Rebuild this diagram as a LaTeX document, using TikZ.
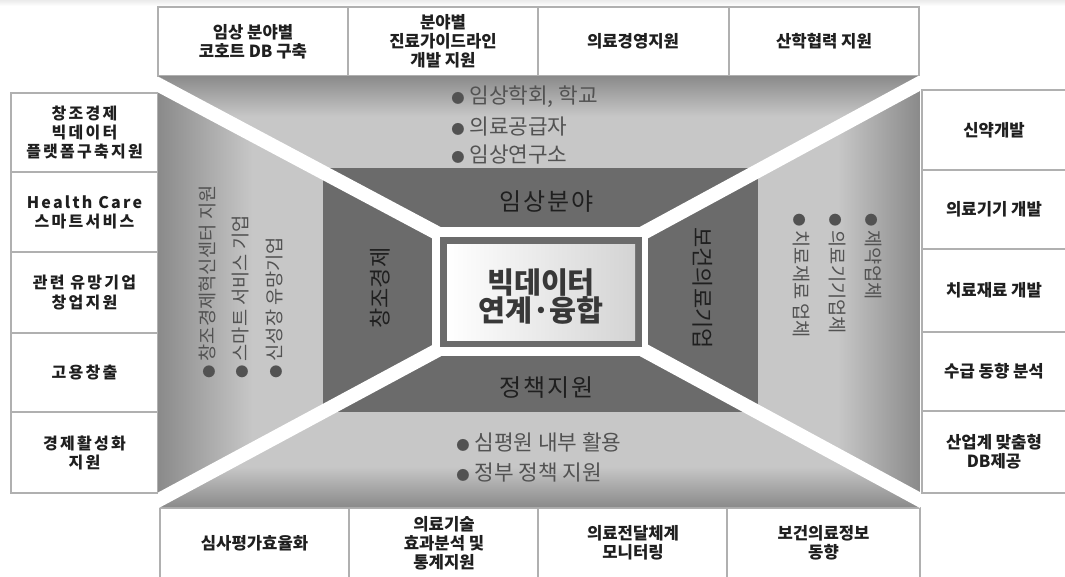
\documentclass[tikz,border=0pt]{standalone}
\usepackage{fontspec}
\setmainfont{Noto Sans CJK KR}
\definecolor{panellight}{HTML}{C7C7C7}
\definecolor{paneldark}{HTML}{8A8A8A}
\definecolor{ringgray}{HTML}{6B6B6B}
\definecolor{bullettext}{HTML}{525252}
\definecolor{boxline}{HTML}{B0B0B0}
\pgfdeclareverticalshading{fadetop}{100bp}{color(0bp)=(panellight); color(62bp)=(panellight); color(75bp)=(paneldark); color(100bp)=(paneldark)}
\pgfdeclareverticalshading{fadebottom}{100bp}{color(0bp)=(paneldark); color(25bp)=(paneldark); color(38bp)=(panellight); color(100bp)=(panellight)}
\pgfdeclarehorizontalshading{fadeleft}{100bp}{color(0bp)=(paneldark); color(25bp)=(paneldark); color(42bp)=(panellight); color(100bp)=(panellight)}
\pgfdeclarehorizontalshading{faderight}{100bp}{color(0bp)=(panellight); color(60bp)=(panellight); color(75bp)=(paneldark); color(100bp)=(paneldark)}

\begin{document}
\begin{tikzpicture}[x=0.75pt,y={(0pt,-0.75pt)},
  boxtext/.style={font=\fontsize{12.5}{14.3}\selectfont\bfseries,align=center,text=black!88},
  sidetext/.style={boxtext,font=\fontsize{12}{14.3}\selectfont\bfseries\addfontfeature{LetterSpace=14}},
  bulletitem/.style={font=\fontsize{16}{18}\selectfont,text=bullettext,anchor=west,inner sep=0pt},
  sidebullet/.style={font=\fontsize{14}{16}\selectfont,text=bullettext,anchor=west,inner sep=0pt},
  ringlabel/.style={font=\fontsize{18}{20}\selectfont\addfontfeature{LetterSpace=8},text=black!88},
  boxframe/.style={draw=boxline,line width=1pt,fill=white}]
\useasboundingbox (0,0) rectangle (1065,576);
\shade[top color=black!8,bottom color=white] (0,0) rectangle (1065,6);
% boxes round the panel
\draw[boxframe] (158,7) rectangle (348,76);
\draw[boxframe] (348,7) rectangle (538,76);
\draw[boxframe] (538,7) rectangle (729,76);
\draw[boxframe] (729,7) rectangle (919,76);
\draw[boxframe] (11,93) rectangle (158,172);
\draw[boxframe] (11,172) rectangle (158,252);
\draw[boxframe] (11,252) rectangle (158,333);
\draw[boxframe] (11,333) rectangle (158,412);
\draw[boxframe] (11,412) rectangle (158,493);
\draw[boxframe] (922,90) rectangle (1068,170);
\draw[boxframe] (922,170) rectangle (1068,249);
\draw[boxframe] (922,249) rectangle (1068,332);
\draw[boxframe] (922,332) rectangle (1068,411);
\draw[boxframe] (922,411) rectangle (1068,493);
\draw[boxframe] (160,508) rectangle (349,579);
\draw[boxframe] (349,508) rectangle (538,579);
\draw[boxframe] (538,508) rectangle (727,579);
\draw[boxframe] (727,508) rectangle (920,579);
% panel
\begin{scope}
\clip (158,76) rectangle (920,507);
\shade[shading=fadetop] (158,76)--(920,76)--(645,232)--(436,232)--cycle;
\shade[shading=fadeleft] (158,76)--(436,232)--(436,351)--(158,507)--cycle;
\shade[shading=faderight] (920,76)--(920,507)--(645,351)--(645,232)--cycle;
\shade[shading=fadebottom] (158,507)--(920,507)--(645,351)--(436,351)--cycle;
\fill[ringgray] (323,168) rectangle (758,412);
\coordinate (o1) at (130,69.6);
\coordinate (o2) at (948,67.8);
\coordinate (o3) at (131,515);
\coordinate (o4) at (948,515.2);
\coordinate (i1) at (446,237.8);
\coordinate (i2) at (636,236.9);
\coordinate (i3) at (446,345.6);
\coordinate (i4) at (636,346.1);
\draw[white,line width=10.5pt] (o1)--(i1);
\draw[white,line width=10.5pt] (o2)--(i2);
\draw[white,line width=10.5pt] (o3)--(i3);
\draw[white,line width=10.5pt] (o4)--(i4);
\end{scope}
\fill[white] (432,227) rectangle (648,356);
\fill[ringgray] (440,237) rectangle (642,347);
\shade[left color=white,right color=black!17] (447,244) rectangle (635,340);
\node[font=\fontsize{22}{21}\selectfont\bfseries,text=black!78,align=center] (hub) at (541,297) {빅데이터\\연계·융합};
% ring labels
\node[ringlabel] (clinic) at (547,202) {임상분야};
\node[ringlabel] (policy) at (547,388) {정책지원};
\node[ringlabel,font=\fontsize{16.5}{18}\selectfont,rotate=90] (creative) at (380,288) {창조경제};
\node[ringlabel,font=\fontsize{16.5}{18}\selectfont,rotate=-90] (industry) at (703,288) {보건의료기업};
% bullets
\node[bulletitem] (clinicA) at (451,97) {{\fontsize{10}{10}\selectfont ●} 임상학회, 학교};
\node[bulletitem] (clinicB) at (451,127) {{\fontsize{10}{10}\selectfont ●} 의료공급자};
\node[bulletitem] (clinicC) at (451,155) {{\fontsize{10}{10}\selectfont ●} 임상연구소};
\node[bulletitem] (policyA) at (456,442) {{\fontsize{10}{10}\selectfont ●} 심평원 내부 활용};
\node[bulletitem] (policyB) at (456,473) {{\fontsize{10}{10}\selectfont ●} 정부 정책 지원};
\node[sidebullet,rotate=90] (creativeA) at (207,379) {{\fontsize{10}{10}\selectfont ●} 창조경제혁신센터 지원};
\node[sidebullet,rotate=90] (creativeB) at (241,379) {{\fontsize{10}{10}\selectfont ●} 스마트 서비스 기업};
\node[sidebullet,rotate=90] (creativeC) at (275,379) {{\fontsize{10}{10}\selectfont ●} 신성장 유망기업};
\node[sidebullet,rotate=-90] (industryA) at (873,213) {{\fontsize{10}{10}\selectfont ●} 제약업체};
\node[sidebullet,rotate=-90] (industryB) at (837,213) {{\fontsize{10}{10}\selectfont ●} 의료기기업체};
\node[sidebullet,rotate=-90] (industryC) at (801,213) {{\fontsize{10}{10}\selectfont ●} 치료재료 업체};
% box labels
\node[boxtext] (top1) at (253,41.5) {임상 분야별\\코호트 DB 구축};
\node[boxtext] (top2) at (443,41.5) {분야별\\진료가이드라인\\개발 지원};
\node[boxtext] (top3) at (633,41.5) {의료경영지원};
\node[boxtext] (top4) at (824,41.5) {산학협력 지원};
\node[sidetext] (left1) at (84.5,132.5) {창조경제\\빅데이터\\플랫폼구축지원};
\node[sidetext] (left2) at (84.5,212) {Health Care\\스마트서비스};
\node[sidetext] (left3) at (84.5,292.5) {관련 유망기업\\창업지원};
\node[sidetext] (left4) at (84.5,372.5) {고용창출};
\node[sidetext] (left5) at (84.5,452.5) {경제활성화\\지원};
\node[boxtext] (right1) at (994,130) {신약개발};
\node[boxtext] (right2) at (994,209.5) {의료기기 개발};
\node[boxtext] (right3) at (994,290.5) {치료재료 개발};
\node[boxtext] (right4) at (994,371.5) {수급 동향 분석};
\node[boxtext] (right5) at (994,452) {산업계 맞춤형\\DB제공};
\node[boxtext] (bottom1) at (254.5,543) {심사평가효율화};
\node[boxtext] (bottom2) at (444,543) {의료기술\\효과분석 및\\통계지원};
\node[boxtext] (bottom3) at (633,543) {의료전달체계\\모니터링};
\node[boxtext] (bottom4) at (823.5,543) {보건의료정보\\동향};
\end{tikzpicture}
\end{document}
